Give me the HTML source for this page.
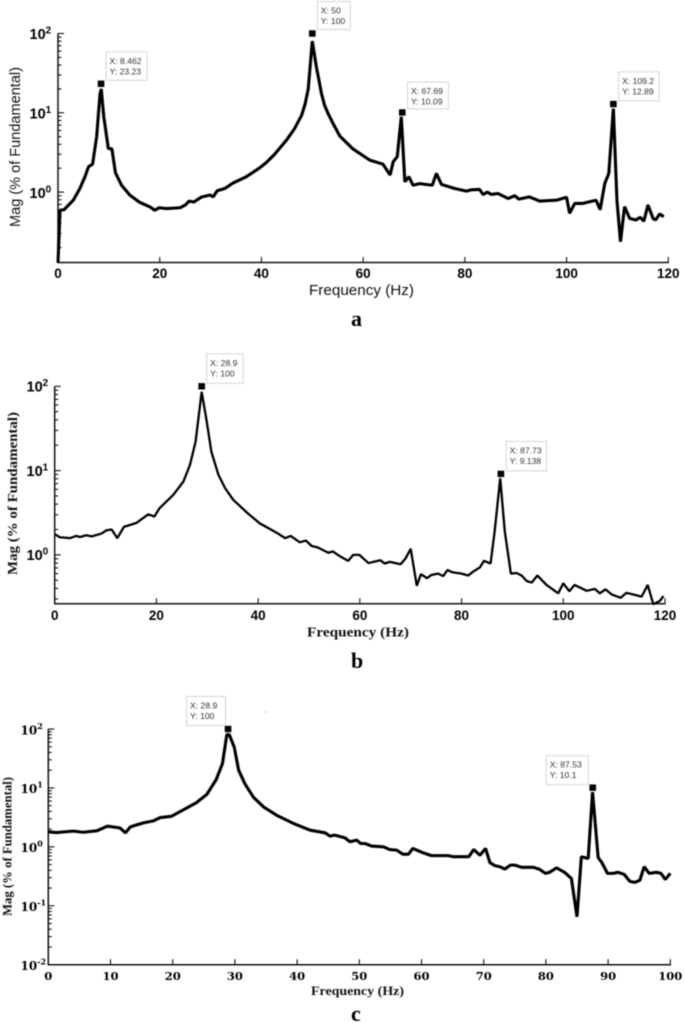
<!DOCTYPE html>
<html lang="en">
<head>
<meta charset="utf-8">
<title>Harmonic spectra a, b, c</title>
<style>
html,body{margin:0;padding:0;background:#fff;}
body{width:685px;height:1023px;overflow:hidden;}
#figure{display:block;filter:blur(0.45px);}
</style>
</head>
<body>
<svg id="figure" xmlns="http://www.w3.org/2000/svg" width="685" height="1023" viewBox="0 0 685 1023"></svg>
<script>
// ---------- Panel a data ----------
var freqA = [0,0.4,1.2,3,4.3,5.3,6,6.8,7.6,8.25,8.5,9,9.9,10.6,11.3,12.5,14.1,16.1,18.1,19,19.9,21.3,24,25,25.8,26.7,28.2,29.9,30.5,31.3,32.8,34.4,37,39.7,41,42.6,44.9,46.5,47.9,48.6,49.2,50,50.8,51.3,51.8,52.4,53.1,54,55.4,58,61.3,63.9,65.3,65.9,66.7,67.5,68.2,69,69.8,71.1,73.6,74.4,75.4,78,80.3,81.3,82.9,83.6,84.4,85.2,86.5,88.5,89.8,90.6,92.7,94.7,98,100,100.6,101.6,103.2,104.5,105.8,106.6,107.5,108.3,109.2,109.9,110.6,111.4,112.4,113.6,114.5,115.2,116,117,117.5,118.3,119.1];
var magA = [0.129,0.59,0.6,0.79,1.11,1.56,2.09,2.25,5,17,20,8.9,3.55,3.5,1.75,1.22,0.92,0.74,0.65,0.59,0.635,0.62,0.635,0.685,0.77,0.75,0.865,0.92,0.87,1.04,1.11,1.3,1.56,2.03,2.37,3,4.5,6.3,9.3,13,20,80,38,26,17.5,12.5,9.8,7.5,5.1,3.5,2.53,2.25,1.64,2.41,2.79,8.9,1.35,1.56,1.22,1.28,1.22,1.72,1.25,1.11,1.03,1.07,1.08,0.93,1,0.935,0.96,0.83,0.9,0.816,0.87,0.77,0.79,0.86,0.54,0.72,0.72,0.755,0.79,0.6,1.28,1.72,11.3,0.79,0.237,0.655,0.466,0.445,0.48,0.43,0.69,0.466,0.445,0.53,0.49];
var peakFreqA = [8.462,50,67.69,109.2];
var peakMagA = [23.23,100,10.09,12.89];
var xTicksA = [0,20,40,60,80,100,120];
var yExponentsA = [2,1,0];

// ---------- Panel b data ----------
var freqB = [0,1,3,4.2,5,6.2,7.3,9.2,10.2,11.2,12.3,13.6,16.1,18.4,19.6,20.6,23.3,25.3,26.6,27.7,28.9,29.9,30.8,32.2,33.5,35.1,38,40.3,43.6,45.3,46.4,48.2,49.4,50.5,51.8,53.8,54.7,56,57.7,58.7,59.9,61.7,64,64.9,65.9,68,69,70,71.2,72,73.2,74.1,75.4,76.4,77.2,78.3,80,81.3,82.3,83.6,84.4,85.7,86.5,87.6,88.5,89.7,90.8,91.8,92.8,93.8,94.9,96.7,99,100,101.2,102.2,104.6,106.2,107.2,108.3,109.5,111.3,112.4,115.4,116.6,117.7,119,119.7];
var magB = [1.76,1.62,1.58,1.68,1.63,1.71,1.66,1.79,1.96,2,1.58,2.15,2.4,3.03,2.85,3.57,5.15,7.4,11.7,22,86,38,16.8,8.9,6.2,4.5,3.1,2.37,1.84,1.58,1.68,1.41,1.48,1.28,1.22,1.06,1.1,0.97,0.85,1,1,0.8,0.865,0.79,0.826,0.775,0.91,1.18,0.43,0.59,0.53,0.58,0.6,0.56,0.66,0.62,0.6,0.57,0.635,0.71,0.85,0.79,1.89,8.1,1.89,0.6,0.61,0.57,0.49,0.47,0.57,0.44,0.35,0.46,0.37,0.44,0.375,0.395,0.35,0.39,0.34,0.31,0.355,0.32,0.44,0.26,0.285,0.325];
var peakFreqB = [28.9,87.73];
var peakMagB = [100,9.138];
var xTicksB = [0,20,40,60,80,100,120];
var yExponentsB = [2,1,0];

// ---------- Panel c data ----------
var freqC = [0,1.3,4,5.6,7.8,9.5,11.5,12.4,13.2,14.2,15.3,16.9,18,19.8,21.2,23.8,25.5,27,28,28.7,29.1,29.9,30.6,31.6,33,34.6,36.7,39.4,42.1,44.5,45.3,46,46.9,47.7,48.5,49.6,50.2,50.9,52,53.9,54.9,56,57,57.9,58.6,60.3,61.6,64.3,65.1,67.6,68.4,69.4,70.3,71,71.8,72.6,73.4,74.3,75,76.1,78,79,79.9,80.6,81.7,83,84.1,85,85.7,86.8,87.5,88.4,89,89.9,90.8,91.6,92.6,93.5,94.3,95.1,95.8,96.6,97.8,98.5,99.2,100];
var magC = [1.8,1.75,1.85,1.77,1.87,2.24,2.1,1.73,2.18,2.36,2.55,2.76,3.14,3.3,3.97,5.6,7.8,13.9,25.9,80,80,49,20,11.8,6.9,4.76,3.44,2.5,1.92,1.73,1.52,1.58,1.5,1.42,1.22,1.3,1.14,1.14,1.03,1,0.9,0.88,0.75,0.75,0.94,0.79,0.71,0.71,0.68,0.68,0.9,0.72,0.94,0.54,0.48,0.46,0.42,0.49,0.49,0.45,0.45,0.415,0.355,0.37,0.44,0.37,0.29,0.065,0.68,0.635,8.5,0.66,0.54,0.355,0.355,0.37,0.34,0.26,0.25,0.27,0.46,0.355,0.37,0.355,0.28,0.355];
var peakFreqC = [28.9,87.53];
var peakMagC = [100,10.1];
var xTicksC = [0,10,20,30,40,50,60,70,80,90,100];
var yExponentsC = [2,1,0,-1,-2];

var SANS = '"Liberation Sans", sans-serif';
var SERIF = '"Liberation Serif", serif';
var WIDE = '"DejaVu Serif", serif';
var NS = 'http://www.w3.org/2000/svg';
var svg = document.getElementById('figure');

function make(tag, attrs, parent, text) {
  var el = document.createElementNS(NS, tag);
  for (var k in attrs) { el.setAttribute(k, attrs[k]); }
  if (text !== undefined) { el.textContent = text; }
  parent.appendChild(el);
  return el;
}

function drawPanel(p) {
  var xScale = function (f) { return p.left + (f - p.xMin) * (p.right - p.left) / (p.xMax - p.xMin); };
  var yScale = function (m) { return p.top + (2 - Math.log10(m)) * p.decade; };

  var g = make('g', {}, svg);
  
  

  // axes
  var yAxis = make('line', {x1: p.left, y1: p.top, x2: p.left, y2: p.bottom, stroke: '#111', 'stroke-width': 1.5}, g);
  
  
  var xAxis = make('line', {x1: p.left - 0.7, y1: p.bottom, x2: p.right + 0.6, y2: p.bottom, stroke: '#111', 'stroke-width': 1.5}, g);
  
  

  // x ticks + labels
  p.xTicks.forEach(function (t) {
    var tick = make('line', {x1: xScale(t), y1: p.bottom, x2: xScale(t), y2: p.bottom - 5.5, stroke: '#111', 'stroke-width': 1.1}, g);
    
    
    var label = make('text', {x: xScale(t), y: p.xLabelY, 'text-anchor': 'middle', 'font-family': p.tickFont, 'font-weight': 'bold', 'font-size': p.tickSize, fill: '#000'}, g, String(t));
    
    
  });

  // y ticks + labels
  p.yExponents.forEach(function (e) {
    var y = yScale(Math.pow(10, e));
    var tick = make('line', {x1: p.left, y1: y, x2: p.left + 6, y2: y, stroke: '#111', 'stroke-width': 1.1}, g);
    
    
    var label = make('text', {x: p.yLabelX, y: y + p.yLabelDy, 'font-family': p.tickFont, 'font-weight': 'bold', 'font-size': p.yTickSize, fill: '#000'}, g, '10');
    
    
    make('tspan', {dy: -5.5, 'font-size': p.supSize}, label, String(e));
    for (var m = 2; m <= 9; m++) {
      var ym = yScale(m * Math.pow(10, e - 1));
      if (ym <= p.bottom && ym >= p.top) {
        var minor = make('line', {x1: p.left, y1: ym, x2: p.left + 3.5, y2: ym, stroke: '#111', 'stroke-width': 1.1}, g);
        
        
      }
    }
  });

  // titles
  var yTitle = make('text', {transform: 'translate(' + p.yTitleX + ' ' + p.yTitleY + ') rotate(-90)', 'text-anchor': 'middle', 'font-family': p.titleFont, 'font-weight': p.titleWeight, 'font-size': p.titleSize, fill: '#111', textLength: p.yTitleLen, lengthAdjust: 'spacingAndGlyphs'}, g, 'Mag (% of Fundamental)');
  
  
  var xTitle = make('text', {x: p.xTitleX, y: p.xTitleY, 'font-family': p.titleFont, 'font-weight': p.titleWeight, 'font-size': p.titleSize, fill: '#111', textLength: p.xTitleLen, lengthAdjust: 'spacingAndGlyphs'}, g, 'Frequency (Hz)');
  
  

  // series
  var d = p.freq.map(function (f, i) {
    return (i ? 'L' : 'M') + xScale(f).toFixed(2) + ' ' + yScale(p.mag[i]).toFixed(2);
  }).join('');
  var line = make('path', {d: d, fill: 'none', stroke: '#000', 'stroke-width': p.lineWidth, 'stroke-linejoin': 'bevel', 'stroke-linecap': 'butt'}, g);
  
  

  // peak markers + data tips
  p.peakFreq.forEach(function (f, i) {
    var mx = xScale(f), my = yScale(p.peakMag[i]);
    var marker = make('rect', {x: mx - 3.3, y: my - 3.2, width: 6.6, height: 6.4, fill: '#000'}, g);
    
    
    var tip = make('g', {}, g);
    
    
    var o = p.tips[i];
    var box = make('rect', {x: mx + o[0] + 0.5, y: my + o[1] + 0.5, width: o[2], height: o[3], fill: '#fff', stroke: '#d4d4d4', 'stroke-width': 1}, tip);
    
    
    var tx = make('text', {x: mx + o[0] + 4, y: my + o[1] + 12.5, 'font-family': SANS, 'font-size': 8.6, fill: '#333'}, tip, 'X: ' + f);
    
    
    var ty = make('text', {x: mx + o[0] + 4, y: my + o[1] + 23, 'font-family': SANS, 'font-size': 8.6, fill: '#333'}, tip, 'Y: ' + p.peakMag[i]);
    
    
  });

  // panel letter
  var letter = make('text', {x: p.letterX, y: p.letterY, 'font-family': SERIF, 'font-weight': 'bold', 'font-size': 22, fill: '#000'}, g, p.id);
  
  
}

drawPanel({
  id: 'a', freq: freqA, mag: magA, peakFreq: peakFreqA, peakMag: peakMagA, xTicks: xTicksA, yExponents: yExponentsA,
  xMin: 0, xMax: 120, left: 58, right: 668.3, top: 33.5, bottom: 262.5, decade: 79.3,
  tickFont: SANS, tickSize: 13.5, yTickSize: 14.5, supSize: 10, xLabelY: 278, yLabelX: 29.5, yLabelDy: 5.7,
  titleFont: SANS, titleWeight: 'normal', titleSize: 14.5, yTitleX: 20, yTitleY: 147, yTitleLen: 160,
  xTitleX: 309, xTitleY: 295, xTitleLen: 105, lineWidth: 3.1, letterX: 351, letterY: 326,
  tips: [[4.5,-32.5,41,28.5],[4.5,-32.5,33,28],[4.7,-31,41,27],[4.7,-32.7,40.5,29]]
});
drawPanel({
  id: 'b', freq: freqB, mag: magB, peakFreq: peakFreqB, peakMag: peakMagB, xTicks: xTicksB, yExponents: yExponentsB,
  xMin: 0, xMax: 120, left: 54.7, right: 665, top: 386.3, bottom: 603.7, decade: 84.3,
  tickFont: SANS, tickSize: 13.5, yTickSize: 14.5, supSize: 10, xLabelY: 620, yLabelX: 26.5, yLabelDy: 5.2,
  titleFont: SERIF, titleWeight: 'bold', titleSize: 14, yTitleX: 17, yTitleY: 493.5, yTitleLen: 163,
  xTitleX: 307, xTitleY: 636.5, xTitleLen: 102, lineWidth: 2.3, letterX: 351, letterY: 668,
  tips: [[4.5,-33,36.5,29.5],[4.8,-33,40.5,29.5]]
});
drawPanel({
  id: 'c', freq: freqC, mag: magC, peakFreq: peakFreqC, peakMag: peakMagC, xTicks: xTicksC, yExponents: yExponentsC,
  xMin: 0, xMax: 100, left: 48.3, right: 670.3, top: 729, bottom: 964.7, decade: 58.93,
  tickFont: WIDE, tickSize: 11.5, yTickSize: 12, supSize: 8, xLabelY: 980, yLabelX: 20.5, yLabelDy: 5.3,
  titleFont: SERIF, titleWeight: 'bold', titleSize: 13, yTitleX: 11.5, yTitleY: 846.5, yTitleLen: 139,
  xTitleX: 311, xTitleY: 995, xTitleLen: 93, lineWidth: 3.1, letterX: 351, letterY: 1021,
  tips: [[-42,-33,39,29],[-47,-32.5,42,29]]
});

var speck = make('rect', {x: 265, y: 711.5, width: 1.2, height: 1, fill: '#999'}, svg);


</script>
</body>
</html>
